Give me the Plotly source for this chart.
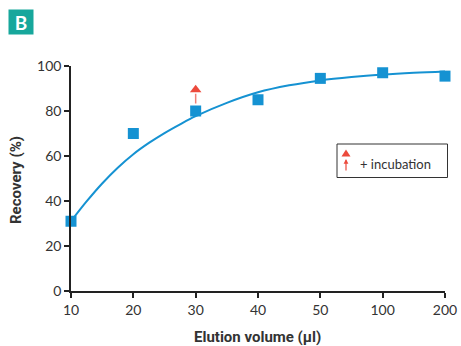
import plotly.graph_objects as go

volumes = ["10", "20", "30", "40", "50", "100", "200"]
recovery = [31, 70, 80, 85, 94.5, 97, 95.5]
# fitted curve (position along the evenly spaced volume axis, recovery %)
curve_pos = [0, 0.25, 0.5, 0.75, 1, 1.25, 1.5, 1.75, 2, 2.5, 3, 3.5, 4, 4.5, 5, 5.5, 6]
curve_val = [31, 39.8, 47.8, 54.8, 60.8, 65.8, 70.2, 74.1, 77.7, 83.6, 88.3, 91.4, 93.6, 95.1, 96.2, 97.0, 97.6]
incubation_volume = "30"
incubation_recovery = 89.5
yticks = [0, 20, 40, 60, 80, 100]

BLUE = "#1592d2"
RED = "#ec4a3c"
TXT = "#333333"
L, R, T, B = 71, 16, 66, 55
W, H = 461, 346
PW, PH = W - L - R, H - T - B

def px(x):
    return (x - L) / PW

def py(y):
    return (H - B - y) / PH

pos = list(range(len(volumes)))

fig = go.Figure()
fig.add_trace(go.Scatter(x=curve_pos, y=curve_val, mode="lines",
                         line=dict(color=BLUE, width=2, shape="spline", smoothing=1.0),
                         hoverinfo="skip", cliponaxis=False))
fig.add_trace(go.Scatter(x=pos, y=recovery, mode="markers",
                         marker=dict(symbol="square", size=11, color=BLUE),
                         cliponaxis=False))
i = volumes.index(incubation_volume)
fig.add_trace(go.Scatter(x=[pos[i]], y=[incubation_recovery], mode="markers",
                         marker=dict(symbol="triangle-up", size=10, color=RED),
                         cliponaxis=False))

annotations = []
annotations.append(dict(x=pos[i], y=incubation_recovery, ax=pos[i], ay=recovery[i],
                        xref="x", yref="y", axref="x", ayref="y", text="",
                        showarrow=True, arrowhead=0, arrowwidth=1.5, arrowcolor="#f08078",
                        standoff=4, startstandoff=6))

# legend box
fig.add_shape(type="rect", xref="paper", yref="paper",
              x0=px(337), x1=px(447.5), y0=py(177.5), y1=py(144),
              line=dict(color="#333333", width=1), fillcolor="white")
tri = "M {0},{1} L {2},{3} L {4},{5} Z".format(px(341.5), py(156.5), px(350.5), py(156.5), px(346), py(149.5))
fig.add_shape(type="path", xref="paper", yref="paper", path=tri,
              line=dict(color=RED, width=0), fillcolor=RED)
annotations.append(dict(x=px(346), y=py(159), xref="paper", yref="paper", text="",
                        showarrow=True, arrowhead=2, arrowsize=0.8, arrowwidth=1.2,
                        arrowcolor=RED, ax=0, ay=13))
annotations.append(dict(x=px(358), y=py(164), xref="paper", yref="paper",
                        text="+ incubation", showarrow=False, xanchor="left", yanchor="middle",
                        font=dict(family="Lato", size=13, color=TXT)))
# panel badge
annotations.append(dict(x=px(8), y=py(9), xref="paper", yref="paper", text="<b>B</b>",
                        showarrow=False, xanchor="left", yanchor="top", width=24, height=24,
                        borderpad=0, bgcolor="#17a79c",
                        font=dict(family="Lato", size=19, color="white")))
# axis titles
annotations.append(dict(x=px(257), y=py(337), xref="paper", yref="paper",
                        text="<b>Elution volume (µl)</b>", showarrow=False,
                        xanchor="center", yanchor="middle",
                        font=dict(family="Roboto", size=15, color=TXT)))
annotations.append(dict(x=px(16), y=py(180), xref="paper", yref="paper",
                        text="<b>Recovery (%)</b>", showarrow=False, textangle=-90,
                        xanchor="center", yanchor="middle",
                        font=dict(family="Roboto", size=15, color=TXT)))

fig.update_layout(
    width=W, height=H, margin=dict(l=L, r=R, t=T, b=B, autoexpand=False),
    paper_bgcolor="white", plot_bgcolor="white", showlegend=False,
    annotations=annotations,
    xaxis=dict(range=[0, 6], tickvals=pos, ticktext=volumes, automargin=False,
               showgrid=False, zeroline=False,
               showline=True, linecolor="#222222", linewidth=1.5,
               ticks="outside", ticklen=5, tickwidth=1.5, tickcolor="#222222",
               tickfont=dict(family="Lato", size=14, color=TXT)),
    yaxis=dict(range=[0, 100], tickvals=yticks, automargin=False,
               showgrid=False, zeroline=False,
               showline=True, linecolor="#222222", linewidth=1.5,
               ticks="outside", ticklen=5, tickwidth=1.5, tickcolor="#222222",
               tickfont=dict(family="Lato", size=14, color=TXT)),
)

fig.write_html("out.html", config={"displayModeBar": False},
               post_script="document.body.style.margin='0';document.body.style.overflow='hidden';")
